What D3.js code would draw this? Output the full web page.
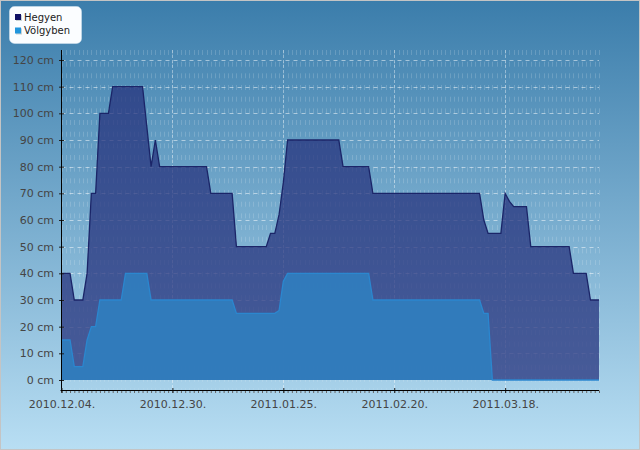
<!DOCTYPE html>
<html>
<head>
<meta charset="utf-8">
<script src="https://cdn.jsdelivr.net/npm/d3@7"></script>
<style>
  html, body { margin: 0; padding: 0; background: #fff; }
  svg { display: block; font-family: "DejaVu Sans", Verdana, sans-serif; }
</style>
</head>
<body>
<svg id="chart" width="640" height="450"></svg>
<script>
// ---- Data (daily readings, starting 2010.12.04.) ----
const startDate = new Date(2010, 11, 4);
const seriesNames = ["Hegyen", "Völgyben"];
const hegyen = [
  40,40,40,30,30,30,40,70,70,100,100,100,
  110,110,110,110,110,110,110,110,95,80,90,
  80,80,80,80,80,80,80,80,80,80,80,80,
  70,70,70,70,70,70,
  50,50,50,50,50,50,50,50,
  55,55,62,74,
  90,90,90,90,90,90,90,90,90,90,90,90,90,
  80,80,80,80,80,80,80,
  70,70,70,70,70,70,70,70,70,70,70,70,70,70,70,70,70,70,70,70,70,70,70,70,70,70,
  60,55,55,55,55,70,67,65,65,65,65,
  50,50,50,50,50,50,50,50,50,50,
  40,40,40,40,30,30,30
];
const volgyben = [
  15,15,15,5,5,5,15,20,20,
  30,30,30,30,30,30,
  40,40,40,40,40,40,
  30,30,30,30,30,30,30,30,30,30,30,30,30,30,30,30,30,30,30,30,
  25,25,25,25,25,25,25,25,25,25,
  26,37,
  40,40,40,40,40,40,40,40,40,40,40,40,40,40,40,40,40,40,40,40,
  30,30,30,30,30,30,30,30,30,30,30,30,30,30,30,30,30,30,30,30,30,30,30,30,30,30,
  25,25,
  0,0,0,0,0,0,0,0,0,0,0,0,0,0,0,0,0,0,0,0,0,0,0,0,0,0
];
const tickDates = ["2010-12-04", "2010-12-30", "2011-01-25", "2011-02-20", "2011-03-18"];
const tickLabels = ["2010.12.04.", "2010.12.30.", "2011.01.25.", "2011.02.20.", "2011.03.18."];
const yTicks = [0,10,20,30,40,50,60,70,80,90,100,110,120];

// ---- Setup ----
const W = 640, H = 450;
const svg = d3.select("#chart");
const parse = d3.timeParse("%Y-%m-%d");
const dates = d3.timeDay.range(startDate, d3.timeDay.offset(startDate, hegyen.length));
const endDate = dates[dates.length - 1];
const tickDateObjs = tickDates.map(parse);

const plot = { left: 61.5, right: 599, top: 50, bottom: 390.5 };
const x = d3.scaleTime().domain([startDate, endDate]).range([plot.left, plot.right]);
const y = d3.scaleLinear().domain([-3.94, 123.75]).range([plot.bottom, plot.top]);

// background
const defs = svg.append("defs");
const grad = defs.append("linearGradient").attr("id", "bg").attr("x1", 0).attr("y1", 0).attr("x2", 0).attr("y2", 1);
grad.append("stop").attr("offset", "0%").attr("stop-color", "#3b7dab");
grad.append("stop").attr("offset", "100%").attr("stop-color", "#b8def3");
svg.append("rect").attr("x", 0.5).attr("y", 0.5).attr("width", W - 1).attr("height", H - 1)
  .attr("fill", "url(#bg)").attr("stroke", "#c4c4c4").attr("stroke-width", 1);

// minor vertical grid (daily)
svg.append("g").selectAll("line").data(dates).join("line")
  .attr("x1", d => Math.round(x(d)) + 0.5).attr("x2", d => Math.round(x(d)) + 0.5)
  .attr("y1", plot.top).attr("y2", plot.bottom - 1)
  .attr("stroke", "#ffffff").attr("stroke-opacity", 0.16)
  .attr("stroke-dasharray", "5,6.67");

// major horizontal grid
svg.append("g").selectAll("line").data(yTicks.filter(v => v > 0)).join("line")
  .attr("x1", plot.left).attr("x2", plot.right)
  .attr("y1", d => Math.round(y(d)) + 0.5).attr("y2", d => Math.round(y(d)) + 0.5)
  .attr("stroke", "#ffffff").attr("stroke-opacity", 0.5)
  .attr("stroke-dasharray", "4,4");

// major vertical grid
svg.append("g").selectAll("line").data(tickDateObjs.slice(1)).join("line")
  .attr("x1", d => Math.round(x(d)) + 0.5).attr("x2", d => Math.round(x(d)) + 0.5)
  .attr("y1", plot.top).attr("y2", plot.bottom)
  .attr("stroke", "#ffffff").attr("stroke-opacity", 0.4)
  .attr("stroke-dasharray", "3,2");

// areas
const area = d3.area().x((d, i) => x(dates[i])).y0(y(0)).y1(d => y(d));
const line = d3.line().x((d, i) => x(dates[i])).y(d => y(d));

svg.append("path").datum(hegyen).attr("d", area)
  .attr("fill", "rgb(38,50,124)").attr("fill-opacity", 0.74);
svg.append("path").datum(volgyben).attr("d", area)
  .attr("fill", "rgb(48,126,190)").attr("fill-opacity", 0.92);
svg.append("path").datum(hegyen).attr("d", line)
  .attr("fill", "none").attr("stroke", "#1b2568").attr("stroke-width", 1.3);
svg.append("path").datum(volgyben).attr("d", line)
  .attr("fill", "none").attr("stroke", "#2b87cf").attr("stroke-width", 1.3);

// axes
const yAxis = d3.axisLeft(y).tickValues(yTicks).tickFormat(d => d + " cm")
  .tickSize(0).tickPadding(7.5).tickSizeOuter(0);
const gy = svg.append("g").attr("transform", `translate(${plot.left},0)`).call(yAxis);
gy.select(".domain").remove();
gy.append("line").attr("x1", 0).attr("x2", 0).attr("y1", plot.top).attr("y2", plot.bottom + 2)
  .attr("stroke", "#000").attr("stroke-width", 1);
gy.selectAll(".tick line").attr("x1", -2.5).attr("x2", 2.5).attr("stroke", "#222");
gy.selectAll(".tick text").attr("fill", "#454545").style("font-size", "11px")
  .style("font-family", "'DejaVu Sans', Verdana, sans-serif");

// minor x ticks
const xMinor = d3.axisBottom(x).tickValues(dates).tickFormat("").tickSize(2.5).tickSizeOuter(0);
const gxm = svg.append("g").attr("transform", `translate(0,${plot.bottom})`).call(xMinor);
gxm.select(".domain").remove();
gxm.selectAll(".tick line").attr("stroke", "#666").attr("stroke-width", 1);

const labelMap = new Map(tickDateObjs.map((d, i) => [+d, tickLabels[i]]));
const xAxis = d3.axisBottom(x).tickValues(tickDateObjs).tickFormat(d => labelMap.get(+d))
  .tickSize(0).tickPadding(9.7).tickSizeOuter(0);
const gx = svg.append("g").attr("transform", `translate(0,${plot.bottom})`).call(xAxis);
gx.select(".domain").remove();
gx.append("line").attr("x1", plot.left - 1).attr("x2", plot.right).attr("y1", 0).attr("y2", 0)
  .attr("stroke", "#000").attr("stroke-width", 1);
gx.selectAll(".tick line").attr("y1", -2.5).attr("y2", 2.5).attr("stroke", "#222");
gx.selectAll(".tick text").attr("fill", "#454545").style("font-size", "11px")
  .style("font-family", "'DejaVu Sans', Verdana, sans-serif");

// legend
const legendColors = ["#111165", "#2196dd"];
const lg = svg.append("g");
lg.append("rect").attr("x", 9.5).attr("y", 6.5).attr("width", 72).attr("height", 37).attr("rx", 5)
  .attr("fill", "#fbfdff").attr("stroke", "#d8e6f0").attr("stroke-width", 0.5);
seriesNames.forEach((name, i) => {
  lg.append("rect").attr("x", 16).attr("y", 15 + i * 13.5).attr("width", 6).attr("height", 6)
    .attr("fill", "#9aa").attr("opacity", 0.5);
  lg.append("rect").attr("x", 15).attr("y", 14 + i * 13.5).attr("width", 6).attr("height", 6)
    .attr("fill", legendColors[i]);
  lg.append("text").attr("x", 24).attr("y", 20.5 + i * 13.3).text(name)
    .attr("fill", "#1a1a1a").style("font-size", "10px");
});
</script>
</body>
</html>
